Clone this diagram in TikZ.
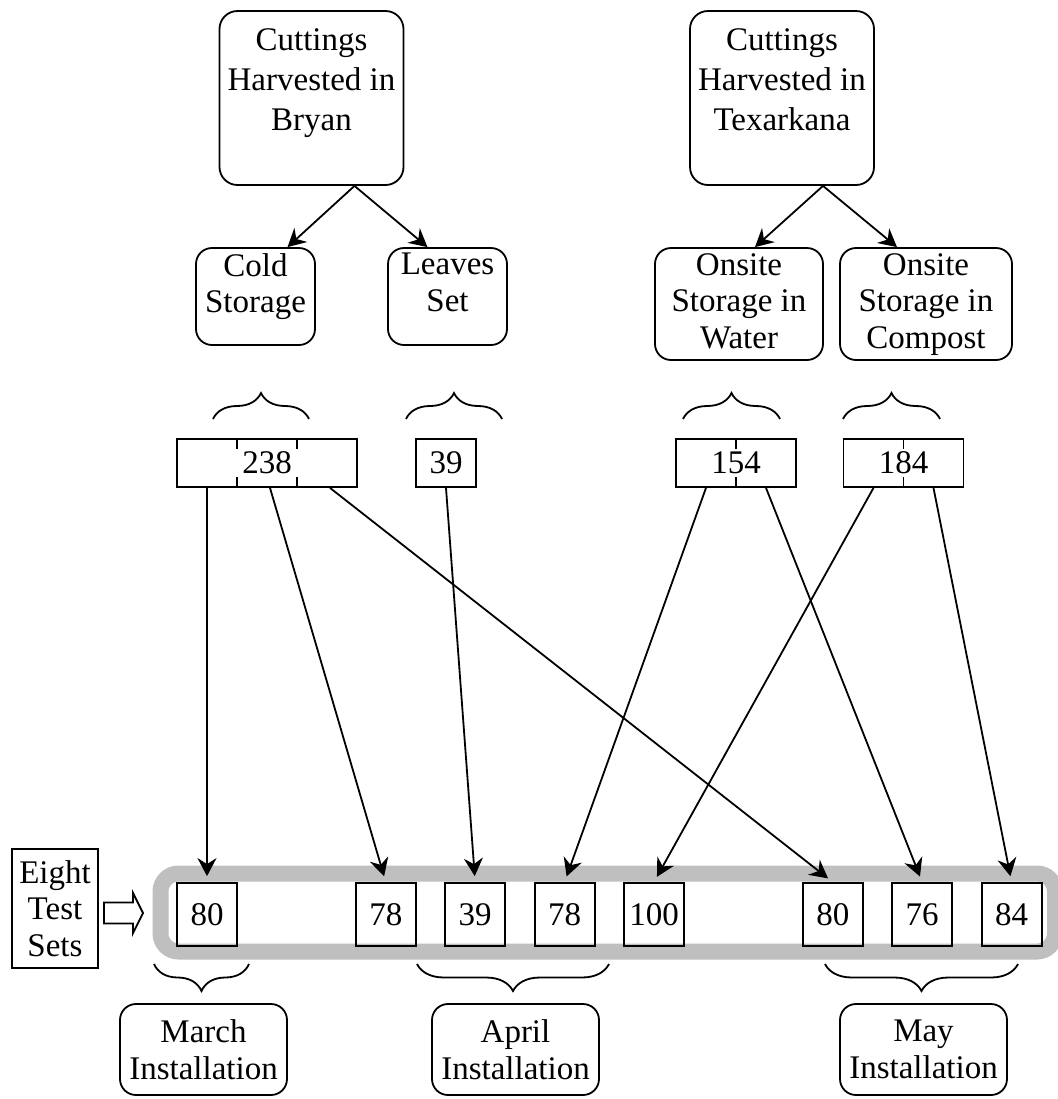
\documentclass[tikz,border=0pt]{standalone}
\usepackage{fontspec}
\setmainfont{Liberation Serif}
\usetikzlibrary{arrows.meta,decorations.pathreplacing}
% text hung from the top of a box: height, width, gap above, text
\newcommand{\hung}[4]{\parbox[c][#1][t]{#2}{\centering\vspace*{#3}#4}}

\begin{document}
\begin{tikzpicture}[x=0.5pt,y=-0.5pt,line width=0.9pt,
  font=\fontsize{16.5pt}{18.25pt}\selectfont,
  >={Stealth[length=9pt,width=9.5pt,inset=3pt]},
  site/.style={draw,rounded corners=9pt,inner sep=0pt},
  store/.style={draw,rounded corners=8pt,inner sep=0pt},
  count/.style={draw,minimum height=24pt,inner sep=0pt},
  tset/.style={draw,minimum width=30pt,minimum height=31.5pt,inner sep=0pt},
  month/.style={draw,rounded corners=8pt,align=center,minimum width=83.5pt,minimum height=45.5pt,inner sep=1pt},
  grp/.style={decorate,decoration={brace,amplitude=13pt}}]
\useasboundingbox (0,0) rectangle (1057,1099);
% gray band round the test sets
\draw[line width=8pt,black!25,rounded corners=9pt] (160.5,873.5) rectangle (1055,951.5);
% harvest sites and storage
\node[site] (bryan) at (311.5,98)
  {\hung{87pt}{92pt}{8.6pt}{\baselineskip=20pt Cuttings\\Harvested in\\Bryan}};
\node[site] (texar) at (782,98)
  {\hung{87pt}{92pt}{8.6pt}{\baselineskip=20pt Cuttings\\Harvested in\\Texarkana}};
\node[store] (cold) at (255.5,296.5) {\hung{48.5pt}{59.5pt}{2.6pt}{Cold\\Storage}};
\node[store] (leaves) at (447.5,296.5) {\hung{48.5pt}{59.5pt}{2.6pt}{Leaves\\Set}};
\node[store] (water) at (739,304) {\hung{56pt}{84pt}{2.6pt}{Onsite\\Storage in\\Water}};
\node[store] (compost) at (926,304) {\hung{56pt}{86pt}{2.6pt}{Onsite\\Storage in\\Compost}};
\draw[->] ([xshift=21.5pt]bryan.south) -- ([xshift=16pt]cold.north);
\draw[->] ([xshift=21.5pt]bryan.south) -- ([xshift=-10pt]leaves.north);
\draw[->] ([xshift=20.5pt]texar.south) -- ([xshift=8pt]water.north);
\draw[->] ([xshift=20.5pt]texar.south) -- ([xshift=-14.5pt]compost.north);
% counts
\draw[grp] (213,419) -- (309,419);
\draw[grp] (406,419) -- (502,419);
\draw[grp] (683,419) -- (780,419);
\draw[grp] (843,419) -- (940,419);
\node[count,minimum width=90pt] (n238) at (267,463) {238};
\node[count,minimum width=30pt] (n39) at (446,463) {39};
\node[count,minimum width=60pt] (n154) at (736,463) {154};
\node[count,minimum width=60pt] (n184) at (903.5,463) {184};
\foreach \dx in {-15pt,15pt}
  \draw ([xshift=\dx]n238.north) -- ++(0,11) ([xshift=\dx]n238.south) -- ++(0,-11);
\draw (n154.north) -- ++(0,11) (n154.south) -- ++(0,-11);
\draw (n184.north) -- ++(0,11) (n184.south) -- ++(0,-11);
% eight test sets
\foreach \i/\s/\v in {1/0/80,2/2/78,3/3/39,4/4/78,5/5/100,6/7/80,7/8/76,8/9/84}
  \node[tset] (t\i) at ({207+89.4*\s},914.5) {\v};
\draw[->,shorten >=3pt] ([xshift=-30pt]n238.south) -- (t1.north);
\draw[->,shorten >=3pt] ([xshift=1.5pt]n238.south) -- (t2.north);
\draw[->,shorten >=3pt] ([xshift=31.5pt]n238.south) -- (t6.north);
\draw[->,shorten >=3pt] (n39.south) -- (t3.north);
\draw[->,shorten >=3pt] ([xshift=-15pt]n154.south) -- (t4.north);
\draw[->,shorten >=3pt] ([xshift=15pt]n154.south) -- (t7.north);
\draw[->,shorten >=3pt] ([xshift=-15pt]n184.south) -- (t5.north);
\draw[->,shorten >=3pt] ([xshift=15pt]n184.south) -- (t8.north);
\node[draw,align=center,minimum width=43pt,minimum height=59.5pt,inner sep=1pt] (eight) at (55,908.5) {Eight\\Test\\Sets};
\draw (104,902.5) -- (133,902.5) -- (133,893) -- (143,913) -- (133,933) -- (133,923.5) -- (104,923.5) -- cycle;
% installation months
\draw[grp,decoration={amplitude=13.5pt}] (249,964) -- (154,964);
\draw[grp,decoration={amplitude=13.5pt}] (609,964) -- (417,964);
\draw[grp,decoration={amplitude=13.5pt}] (1018,964) -- (825,964);
\node[month] (march) at (203.5,1049.5) {March\\Installation};
\node[month] (april) at (515.5,1049.5) {April\\Installation};
\node[month] (may) at (923.5,1049.5) {May\\Installation};
\end{tikzpicture}
\end{document}
